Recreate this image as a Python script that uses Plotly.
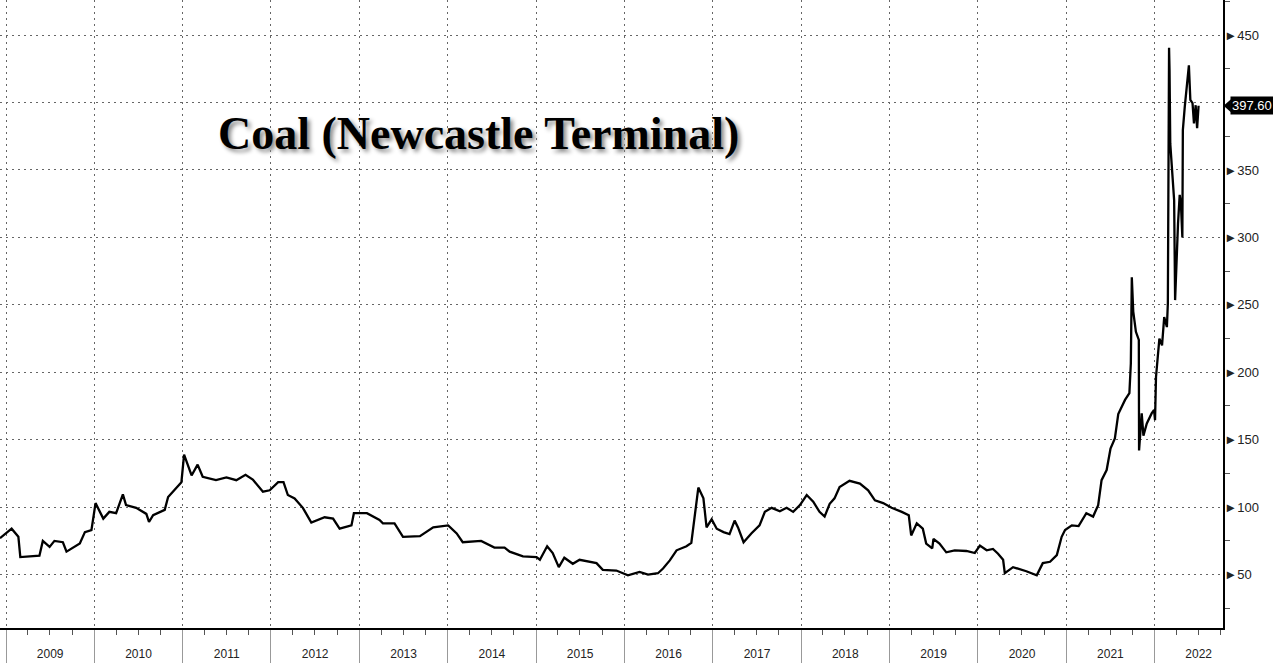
import plotly.graph_objects as go

# Newcastle coal price (USD/t)
dates = [
    "2008-12-07", "2009-01-24", "2009-02-21", "2009-03-01", "2009-05-19", "2009-06-02", "2009-06-30",
    "2009-07-20", "2009-08-24", "2009-09-08", "2009-11-02", "2009-11-23", "2009-12-20",
    "2010-01-06", "2010-02-07", "2010-03-04", "2010-04-01", "2010-04-29", "2010-05-12", "2010-06-23",
    "2010-08-04", "2010-08-15", "2010-09-01", "2010-10-19", "2010-11-02", "2010-11-23", "2010-12-27",
    "2011-01-07", "2011-02-07", "2011-03-04", "2011-03-25", "2011-05-19", "2011-07-01", "2011-08-11",
    "2011-09-18", "2011-10-18", "2011-11-29", "2011-12-27",
    "2012-01-31", "2012-02-22", "2012-03-11", "2012-04-08", "2012-05-12", "2012-06-16", "2012-07-13",
    "2012-08-10", "2012-09-14", "2012-10-11", "2012-11-29", "2012-12-09",
    "2013-02-01", "2013-03-25", "2013-04-08", "2013-05-26", "2013-06-30", "2013-09-08", "2013-11-02",
    "2014-01-03", "2014-02-07", "2014-03-04", "2014-05-19", "2014-07-13", "2014-08-24", "2014-09-14",
    "2014-11-08",
    "2015-01-03", "2015-01-17", "2015-02-16", "2015-03-11", "2015-04-05", "2015-04-28", "2015-06-02",
    "2015-06-30", "2015-09-08", "2015-10-04", "2015-11-29",
    "2016-01-16", "2016-03-04", "2016-04-08", "2016-05-19", "2016-06-09", "2016-07-07", "2016-08-04",
    "2016-09-14", "2016-10-04", "2016-10-18", "2016-11-02", "2016-11-23", "2016-12-06", "2016-12-27",
    "2017-01-17", "2017-02-14", "2017-03-11", "2017-04-01", "2017-04-15", "2017-05-08", "2017-06-09",
    "2017-07-13", "2017-08-04", "2017-09-01", "2017-10-05", "2017-11-02", "2017-11-29", "2017-12-27",
    "2018-01-24", "2018-02-20", "2018-03-18", "2018-04-08", "2018-04-29", "2018-05-19", "2018-06-09",
    "2018-07-20", "2018-09-01", "2018-10-05", "2018-11-02", "2018-12-06",
    "2019-01-10", "2019-02-21", "2019-03-22", "2019-04-01", "2019-04-24", "2019-05-19", "2019-06-02",
    "2019-06-27", "2019-07-02", "2019-07-27", "2019-08-24", "2019-09-28", "2019-11-15", "2019-12-20",
    "2020-01-10", "2020-02-07", "2020-03-04", "2020-03-25", "2020-04-15", "2020-04-22", "2020-05-26",
    "2020-07-20", "2020-09-01", "2020-09-26", "2020-10-26", "2020-11-23", "2020-12-13", "2020-12-27",
    "2021-01-24", "2021-02-21", "2021-03-25", "2021-04-22", "2021-05-13", "2021-05-27", "2021-06-17",
    "2021-07-03", "2021-07-21", "2021-08-04", "2021-09-01", "2021-09-19", "2021-09-25", "2021-09-29",
    "2021-10-05", "2021-10-16", "2021-10-28", "2021-10-29", "2021-11-09", "2021-11-16", "2021-11-30",
    "2021-12-20", "2021-12-30",
    "2022-01-03", "2022-01-07", "2022-01-21", "2022-02-01", "2022-02-10", "2022-02-21", "2022-02-25",
    "2022-03-02", "2022-03-04", "2022-03-07", "2022-03-18", "2022-03-23", "2022-03-27", "2022-04-04",
    "2022-04-08", "2022-04-15", "2022-04-20", "2022-04-26", "2022-04-28", "2022-05-06", "2022-05-15",
    "2022-05-23", "2022-05-29", "2022-06-07", "2022-06-13", "2022-06-20", "2022-06-26", "2022-07-02",
]
prices = [
    77, 84, 78, 63, 64, 75, 70.5, 75, 74, 67, 73, 81.5, 83,
    103, 91.5, 96.5, 95.5, 109.5, 101.5, 99.5, 95, 89, 94, 98, 107.5, 112, 118.5,
    139, 123.5, 131.5, 122.5, 120, 122, 120, 124, 120.5, 111.5, 112.5,
    118.5, 118.5, 109, 106.5, 99.5, 88.5, 90.5, 92.5, 91.5, 84, 86.5, 95.5,
    95.5, 90.5, 88, 88, 78, 78.5, 85,
    86.5, 80.5, 74, 75, 70, 70, 67, 63.5,
    63, 61, 71, 66, 55.5, 62.5, 58, 61, 58.5, 53.5, 53,
    49.5, 52, 50, 51, 54.5, 60.5, 68, 71, 73.5, 92.5, 114.5, 106.5, 85, 91,
    84, 81.5, 80, 90, 85, 74, 80.5, 86.5, 96.5, 99.5, 97, 99.5, 96.5, 101.5,
    109, 104, 96.5, 93, 102.5, 106.5, 115, 119.5, 117.5, 112.5, 105, 103,
    99.5, 96.5, 94, 79, 88, 84, 73, 69.5, 76.5, 73, 66.5, 68, 67.5, 66,
    71.5, 68, 69, 65.5, 61, 51, 55.5, 52.5, 49.5, 58.5, 59.5, 64.5, 78, 83,
    86.5, 86, 95.5, 93, 101.5, 120, 127.5, 143.5, 151, 169, 179.5, 184.5, 206.5, 270.5,
    245, 230, 224, 142, 169.5, 153, 162, 169.5, 172,
    164.5, 196.5, 225, 220, 241, 233.5, 251, 440.5, 424, 369.5, 337.5, 327.5, 253.5, 293,
    310, 331.5, 325, 300, 379.5, 397, 416.5, 427.5, 402, 399.5, 384.5, 398, 381, 397.6,
]

y_ticks = [50, 100, 150, 200, 250, 300, 350, 400, 450]
y_labels = ["►50", "►100", "►150", "►200", "►250", "►300", "►350", "", "►450"]
last_price = prices[-1]

fig = go.Figure()
fig.add_trace(go.Scatter(x=dates, y=prices, mode="lines",
                         line=dict(color="black", width=2.3), showlegend=False))

# title with drop shadow, placed inside the plot
fig.add_annotation(
    x=0.177, y=0.788, xref="paper", yref="paper", xanchor="left", yanchor="middle",
    text="<b>Coal (Newcastle Terminal)</b>", showarrow=False,
    font=dict(family="Liberation Serif", size=46, color="black", shadow="3px 3px 4px #8a8a8a"))

# last value tag on the right axis: pointer + black box
fig.add_shape(
    type="path", xref="paper", yref="y",
    path=f"M 1.0005,{last_price} L 1.0065,{last_price + 4.8} L 1.0065,{last_price - 4.8} Z",
    fillcolor="black", line=dict(color="black", width=0), layer="above")
fig.add_annotation(
    x=1, y=last_price, xref="paper", yref="y", xanchor="left", yanchor="middle",
    text=f"{last_price:.2f}", showarrow=False, xshift=7, bgcolor="black", borderpad=1,
    font=dict(family="Liberation Sans", size=13, color="white"))

fig.update_layout(
    width=1273, height=663,
    margin=dict(l=0, r=50, t=0, b=35),
    plot_bgcolor="white", paper_bgcolor="white",
    font=dict(family="Liberation Sans", size=13, color="#222"),
    xaxis=dict(
        type="date", range=["2008-12-07", "2022-10-11"],
        tick0="2009-01-01", dtick="M12", tickformat="%Y", ticklabelmode="period",
        ticks="outside", ticklen=36, tickcolor="#999", tickwidth=1,
        ticklabelstandoff=-22,
        showgrid=True, gridcolor="#666", griddash="2px,4px", gridwidth=1,
        showline=True, linecolor="black", linewidth=1.5,
        minor=dict(dtick="M3", ticks="outside", ticklen=5, tickcolor="#555", showgrid=False),
        tickfont=dict(size=12, color="#222"),
        zeroline=False, fixedrange=True,
    ),
    yaxis=dict(
        side="right", range=[10.4, 476],
        tickmode="array", tickvals=y_ticks, ticktext=y_labels,
        ticks="", ticklabelstandoff=-3, tickfont=dict(size=13, color="#222"),
        showgrid=True, gridcolor="#666", griddash="2px,4px", gridwidth=1,
        showline=True, linecolor="black", linewidth=1.5,
        minor=dict(tickmode="linear", tick0=25, dtick=50, ticks="outside", ticklen=5,
                   tickcolor="#555", showgrid=False),
        zeroline=False, fixedrange=True,
    ),
)

fig.write_html("out.html", config={"displayModeBar": False},
               post_script="document.body.style.margin='0';")
